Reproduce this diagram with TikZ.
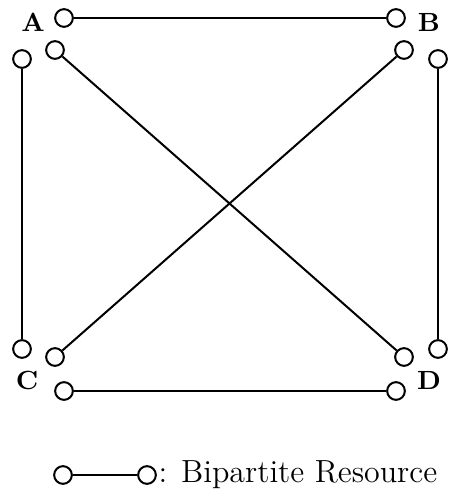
\documentclass[tikz,border=0pt]{standalone}
\begin{document}
\begin{tikzpicture}[x=0.35pt,y=-0.35pt,
  port/.style={circle,draw,line width=0.7pt,minimum size=6.2pt,inner sep=0pt},
  link/.style={line width=0.7pt},
  lab/.style={font=\fontsize{9.2}{11}\selectfont\bfseries,inner sep=0pt}]
\useasboundingbox (0,0) rectangle (448,489);
% ports
\node[port] (a1) at (64,18) {};
\node[port] (a2) at (55,50) {};
\node[port] (a3) at (22,59) {};
\node[port] (b1) at (396,18) {};
\node[port] (b2) at (404,50) {};
\node[port] (b3) at (438,59) {};
\node[port] (c3) at (22,349) {};
\node[port] (c2) at (55,357) {};
\node[port] (c1) at (64,391) {};
\node[port] (d3) at (438,349) {};
\node[port] (d2) at (404,357) {};
\node[port] (d1) at (396,391) {};
% labels
\node[lab] (la) at (33,22) {A};
\node[lab] (lb) at (429,22) {B};
\node[lab] (lc) at (27,380) {C};
\node[lab] (ld) at (429,380) {D};
% links
\draw[link] (a1) -- (b1);
\draw[link] (a3) -- (c3);
\draw[link] (a2) -- (d2);
\draw[link] (b2) -- (c2);
\draw[link] (b3) -- (d3);
\draw[link] (c1) -- (d1);
% legend
\node[port] (l1) at (63,475) {};
\node[port] (l2) at (147,475) {};
\draw[link] (l1) -- (l2);
\node[anchor=base west,inner sep=0pt,font=\fontsize{11.2}{13}\selectfont] (lt) at (158,482) {: Bipartite Resource};
\end{tikzpicture}
\end{document}
